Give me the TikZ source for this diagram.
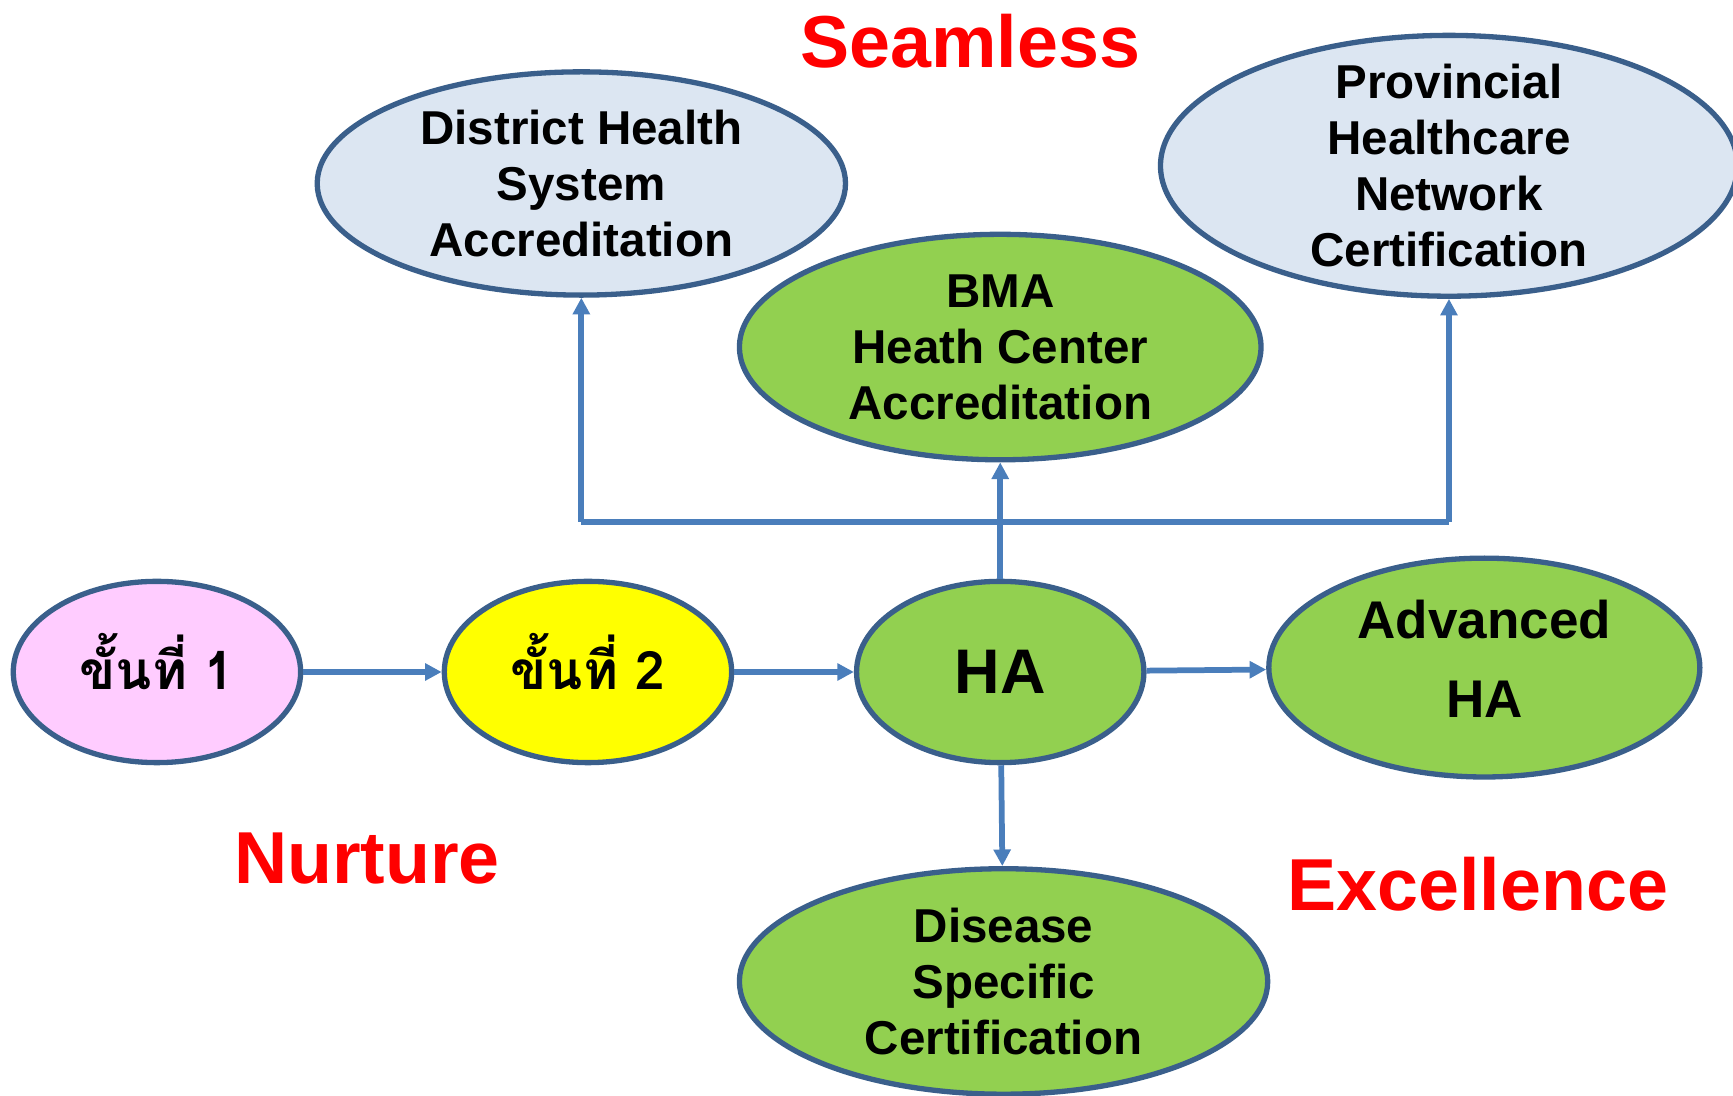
\documentclass[tikz,border=0pt]{standalone}
\usepackage{fontspec}
\setmainfont{Liberation Sans}
\newfontfamily\thaifont[Script=Thai]{Loma}
\usetikzlibrary{shapes.geometric,arrows.meta}
\definecolor{bordc}{HTML}{3A5F8B}
\definecolor{connc}{HTML}{4A7EBB}
\definecolor{lblue}{HTML}{DCE6F2}
\definecolor{lgreen}{HTML}{92D050}
\definecolor{lpink}{HTML}{FFCCFF}
\definecolor{lyellow}{HTML}{FFFF00}
\definecolor{hred}{HTML}{FF0000}
\tikzset{
  ell/.style={ellipse, draw=bordc, line width=2.4pt, inner sep=0pt},
  txt/.style={font=\bfseries\fontsize{21.5}{25.3}\selectfont, align=center, text=black},
  bigtxt/.style={font=\bfseries\fontsize{28.5}{34}\selectfont, align=center},
  advtxt/.style={font=\bfseries\fontsize{24}{36}\selectfont, align=center},
  thaitxt/.style={font=\thaifont\bfseries\fontsize{24}{30}\selectfont},
  redtxt/.style={font=\bfseries\fontsize{33.3}{40}\selectfont, text=hred},
  conn/.style={draw=connc, line width=2.6pt},
  arr/.style={conn, -{Triangle[width=7.5pt,length=7.5pt]}}
}
\begin{document}
\begin{tikzpicture}[x=0.5pt,y=-0.5pt]
\useasboundingbox (0,0) rectangle (1568,991);
% ellipses
\node[ell, fill=lblue, minimum width=239pt, minimum height=101pt] (dhs) at (526,166) {};
\node[ell, fill=lblue, minimum width=261pt, minimum height=118pt] (pnc) at (1311,150) {};
\node[ell, fill=lgreen, minimum width=236pt, minimum height=102pt] (bma) at (905,314) {};
\node[ell, fill=lpink, minimum width=130pt, minimum height=82pt] (s1) at (142,608) {};
\node[ell, fill=lyellow, minimum width=130pt, minimum height=82pt] (s2) at (532,608) {};
\node[ell, fill=lgreen, minimum width=130pt, minimum height=82pt] (ha) at (905,608) {};
\node[ell, fill=lgreen, minimum width=195pt, minimum height=99pt] (adv) at (1343,604) {};
\node[ell, fill=lgreen, minimum width=239pt, minimum height=102pt] (dis) at (908,888) {};
% texts
\node[txt] (dhst) at (dhs.center) {District Health\\System\\Accreditation};
\node[txt] (pnct) at (pnc.center) {Provincial\\Healthcare\\Network\\Certification};
\node[txt] (bmat) at (bma.center) {BMA\\Heath Center\\Accreditation};
\node[txt] (dist) at (dis.center) {Disease\\Specific\\Certification};
\node[bigtxt] (hat) at (ha.center) {HA};
\node[advtxt] (advt) at (1343,596) {Advanced\\HA};
\node[thaitxt, anchor=base] (s1t) at (142,624) {ขั้นที่ 1};
\node[thaitxt, anchor=base] (s2t) at (532,624) {ขั้นที่ 2};
% red labels
\node[redtxt] (seam) at (878,37) {Seamless};
\node[redtxt] (nurt) at (332,777) {Nurture};
\node[redtxt] (exc) at (1337,800) {Excellence};
% connectors
\draw[arr] (s1) -- (s2);
\draw[arr] (s2) -- (ha);
\draw[arr] (ha) -- (adv);
\draw[arr] (ha) -- (dis);
\draw[arr] (ha.north) -- (bma.south);
\coordinate (jl) at (526,472);
\coordinate (jr) at (1311,472);
\draw[conn] (jl) -- (jr);
\draw[arr] (jl) -- (dhs.south);
\draw[arr] (jr) -- (pnc.south);
\end{tikzpicture}
\end{document}
